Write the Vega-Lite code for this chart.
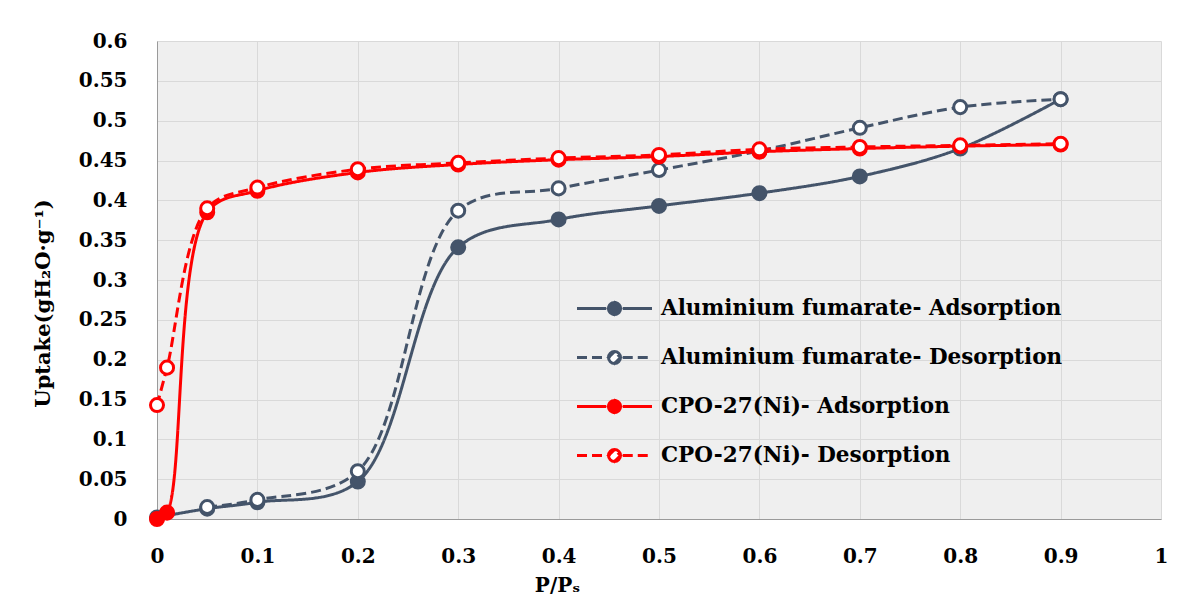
{
  "$schema": "https://vega.github.io/schema/vega-lite/v6.json",
  "width": 1004,
  "height": 478,
  "autosize": "none",
  "padding": {"left": 157, "top": 41, "right": 33, "bottom": 80},
  "background": "white",
  "config": {
    "view": {"fill": "#efefef", "stroke": null},
    "font": "DejaVu Serif"
  },
  "data": {
    "values": [
      {"x": 0, "y": 0.002, "series": "Aluminium fumarate- Adsorption"},
      {"x": 0.05, "y": 0.013, "series": "Aluminium fumarate- Adsorption"},
      {"x": 0.1, "y": 0.021, "series": "Aluminium fumarate- Adsorption"},
      {"x": 0.2, "y": 0.047, "series": "Aluminium fumarate- Adsorption"},
      {"x": 0.3, "y": 0.341, "series": "Aluminium fumarate- Adsorption"},
      {"x": 0.4, "y": 0.376, "series": "Aluminium fumarate- Adsorption"},
      {"x": 0.5, "y": 0.393, "series": "Aluminium fumarate- Adsorption"},
      {"x": 0.6, "y": 0.409, "series": "Aluminium fumarate- Adsorption"},
      {"x": 0.7, "y": 0.43, "series": "Aluminium fumarate- Adsorption"},
      {"x": 0.8, "y": 0.465, "series": "Aluminium fumarate- Adsorption"},
      {"x": 0.9, "y": 0.527, "series": "Aluminium fumarate- Adsorption"},
      {"x": 0.05, "y": 0.015, "series": "Aluminium fumarate- Desorption"},
      {"x": 0.1, "y": 0.024, "series": "Aluminium fumarate- Desorption"},
      {"x": 0.2, "y": 0.06, "series": "Aluminium fumarate- Desorption"},
      {"x": 0.3, "y": 0.387, "series": "Aluminium fumarate- Desorption"},
      {"x": 0.4, "y": 0.415, "series": "Aluminium fumarate- Desorption"},
      {"x": 0.5, "y": 0.438, "series": "Aluminium fumarate- Desorption"},
      {"x": 0.6, "y": 0.462, "series": "Aluminium fumarate- Desorption"},
      {"x": 0.7, "y": 0.491, "series": "Aluminium fumarate- Desorption"},
      {"x": 0.8, "y": 0.517, "series": "Aluminium fumarate- Desorption"},
      {"x": 0.9, "y": 0.527, "series": "Aluminium fumarate- Desorption"},
      {"x": 0, "y": 0, "series": "CPO-27(Ni)- Adsorption"},
      {"x": 0.01, "y": 0.008, "series": "CPO-27(Ni)- Adsorption"},
      {"x": 0.05, "y": 0.385, "series": "CPO-27(Ni)- Adsorption"},
      {"x": 0.1, "y": 0.412, "series": "CPO-27(Ni)- Adsorption"},
      {"x": 0.2, "y": 0.435, "series": "CPO-27(Ni)- Adsorption"},
      {"x": 0.3, "y": 0.445, "series": "CPO-27(Ni)- Adsorption"},
      {"x": 0.4, "y": 0.451, "series": "CPO-27(Ni)- Adsorption"},
      {"x": 0.5, "y": 0.455, "series": "CPO-27(Ni)- Adsorption"},
      {"x": 0.6, "y": 0.461, "series": "CPO-27(Ni)- Adsorption"},
      {"x": 0.7, "y": 0.465, "series": "CPO-27(Ni)- Adsorption"},
      {"x": 0.8, "y": 0.468, "series": "CPO-27(Ni)- Adsorption"},
      {"x": 0.9, "y": 0.47, "series": "CPO-27(Ni)- Adsorption"},
      {"x": 0, "y": 0.143, "series": "CPO-27(Ni)- Desorption"},
      {"x": 0.01, "y": 0.19, "series": "CPO-27(Ni)- Desorption"},
      {"x": 0.05, "y": 0.39, "series": "CPO-27(Ni)- Desorption"},
      {"x": 0.1, "y": 0.416, "series": "CPO-27(Ni)- Desorption"},
      {"x": 0.2, "y": 0.439, "series": "CPO-27(Ni)- Desorption"},
      {"x": 0.3, "y": 0.447, "series": "CPO-27(Ni)- Desorption"},
      {"x": 0.4, "y": 0.453, "series": "CPO-27(Ni)- Desorption"},
      {"x": 0.5, "y": 0.457, "series": "CPO-27(Ni)- Desorption"},
      {"x": 0.6, "y": 0.464, "series": "CPO-27(Ni)- Desorption"},
      {"x": 0.7, "y": 0.467, "series": "CPO-27(Ni)- Desorption"},
      {"x": 0.8, "y": 0.469, "series": "CPO-27(Ni)- Desorption"},
      {"x": 0.9, "y": 0.471, "series": "CPO-27(Ni)- Desorption"}
    ]
  },
  "encoding": {
    "x": {
      "field": "x",
      "type": "quantitative",
      "scale": {"domain": [0, 1], "nice": false, "zero": false},
      "axis": {
        "title": "P/Pₛ",
        "values": [0, 0.1, 0.2, 0.3, 0.4, 0.5, 0.6, 0.7, 0.8, 0.9, 1],
        "format": "~g",
        "labelFlush": false,
        "grid": true,
        "gridColor": "#d9d9d9",
        "gridWidth": 1,
        "domainColor": "#9a9a9a",
        "domainWidth": 1,
        "ticks": false,
        "labelPadding": 27,
        "labelFont": "DejaVu Serif",
        "labelFontSize": 20,
        "labelFontWeight": "bold",
        "labelColor": "#000000",
        "titleFont": "DejaVu Serif",
        "titleFontSize": 20,
        "titleFontWeight": "bold",
        "titleColor": "#000000",
        "titleX": 400,
        "titleY": 66,
        "titleBaseline": "middle",
        "titleAlign": "center"
      }
    },
    "y": {
      "field": "y",
      "type": "quantitative",
      "scale": {"domain": [0, 0.6], "nice": false},
      "axis": {
        "title": "Uptake(gH₂O·g⁻¹)",
        "values": [0, 0.05, 0.1, 0.15, 0.2, 0.25, 0.3, 0.35, 0.4, 0.45, 0.5, 0.55, 0.6],
        "format": "~g",
        "labelFlush": false,
        "grid": true,
        "gridColor": "#d9d9d9",
        "gridWidth": 1,
        "domainColor": "#9a9a9a",
        "domainWidth": 1,
        "ticks": false,
        "labelPadding": 30,
        "labelFont": "DejaVu Serif",
        "labelFontSize": 20,
        "labelFontWeight": "bold",
        "labelColor": "#000000",
        "titleFont": "DejaVu Serif",
        "titleFontSize": 21,
        "titleFontWeight": "bold",
        "titleColor": "#000000",
        "titleAngle": -90,
        "titleX": -114,
        "titleY": 262,
        "titleBaseline": "middle",
        "titleAlign": "center"
      }
    }
  },
  "layer": [
    {
      "mark": {"type": "line", "interpolate": "catmull-rom", "strokeWidth": 3},
      "encoding": {
        "color": {
          "field": "series",
          "type": "nominal",
          "scale": {
            "domain": ["Aluminium fumarate- Adsorption", "Aluminium fumarate- Desorption", "CPO-27(Ni)- Adsorption", "CPO-27(Ni)- Desorption"],
            "range": ["#44546a", "#44546a", "#ff0000", "#ff0000"]
          },
          "legend": {
            "title": null,
            "orient": "none",
            "legendX": 431,
            "legendY": 241,
            "symbolType": "M-1.5,0L-0.33,0M0.33,0L1.5,0M0.24,0A0.24,0.24 0 0,1 0,0.24M0,0.24A0.24,0.24 0 0,1 -0.24,0M-0.24,0A0.24,0.24 0 0,1 0,-0.24M0,-0.24A0.24,0.24 0 0,1 0.24,0M0.24,0L0,0.24L-0.24,0L0,-0.24Z",
            "symbolSize": 2500,
            "symbolStrokeWidth": 3,
            "labelFont": "DejaVu Serif",
            "labelFontSize": 21.5,
            "labelFontWeight": "bold",
            "labelColor": "#000000",
            "labelOffset": 20,
            "labelLimit": 600,
            "rowPadding": 10,
            "padding": 0,
            "encode": {
              "symbols": {
                "update": {
                  "fill": [
                    {"test": "indexof(datum.value, 'Desorption') >= 0", "value": "#ffffff"},
                    {"test": "indexof(datum.value, 'CPO') >= 0", "value": "#ff0000"},
                    {"value": "#44546a"}
                  ],
                  "fillOpacity": {"value": 1},
                  "strokeDash": [
                    {"test": "indexof(datum.value, 'Desorption') >= 0", "value": [10, 5]},
                    {"value": [1, 0]}
                  ]
                }
              }
            }
          }
        },
        "strokeDash": {
          "field": "series",
          "type": "nominal",
          "scale": {
            "domain": ["Aluminium fumarate- Adsorption", "Aluminium fumarate- Desorption", "CPO-27(Ni)- Adsorption", "CPO-27(Ni)- Desorption"],
            "range": [[1, 0], [10, 5], [1, 0], [10, 5]]
          },
          "legend": null
        }
      }
    },
    {
      "mark": {"type": "point", "shape": "circle", "size": 170, "strokeWidth": 3, "opacity": 1, "filled": false},
      "encoding": {
        "stroke": {
          "field": "series",
          "type": "nominal",
          "scale": {
            "domain": ["Aluminium fumarate- Adsorption", "Aluminium fumarate- Desorption", "CPO-27(Ni)- Adsorption", "CPO-27(Ni)- Desorption"],
            "range": ["#44546a", "#44546a", "#ff0000", "#ff0000"]
          },
          "legend": null
        },
        "fill": {
          "field": "series",
          "type": "nominal",
          "scale": {
            "domain": ["Aluminium fumarate- Adsorption", "Aluminium fumarate- Desorption", "CPO-27(Ni)- Adsorption", "CPO-27(Ni)- Desorption"],
            "range": ["#44546a", "#ffffff", "#ff0000", "#ffffff"]
          },
          "legend": null
        }
      }
    }
  ]
}
